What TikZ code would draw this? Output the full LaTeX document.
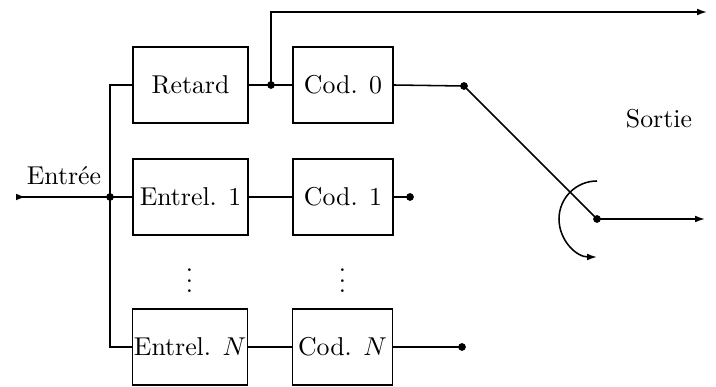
\documentclass[tikz,border=0pt]{standalone}
\usetikzlibrary{arrows.meta}
\begin{document}
\begin{tikzpicture}[x=0.3876pt,y=-0.3876pt,
  line width=0.6pt,
  blk/.style={draw,rectangle,inner sep=0pt,minimum height=29.5pt},
  wide/.style={blk,minimum width=44.6pt},
  narrow/.style={blk,minimum width=38.8pt},
  tip/.style={-{Latex[length=3.8pt,width=2.6pt]}},
  dot/.style={circle,fill,inner sep=0pt,minimum size=3pt}]
\useasboundingbox (0,0) rectangle (716,387);

% encoder blocks
\node[wide]   (retard) at (190.5,85)  {Retard};
\node[narrow] (cod0)   at (343,85)    {Cod. 0};
\node[wide]   (ent1)   at (190.5,197) {Entrel. 1};
\node[narrow] (cod1)   at (343,197)   {Cod. 1};
\node[wide]   (entN)   at (190,347)   {Entrel. $N$};
\node[narrow] (codN)   at (342.5,347) {Cod. $N$};

\node[inner sep=0pt] (vd1) at (189.5,273) {$\vdots$};
\node[inner sep=0pt] (vd2) at (342.5,273) {$\vdots$};

\node (lin)  at (64,176)  {Entrée};
\node (lout) at (659,119) {Sortie};

% junctions and end points
\node[dot] (j)   at (110,197) {};
\node[dot] (d0)  at (271,85)  {};
\node[dot] (s0)  at (464,86)  {};
\node[dot] (s1)  at (410,197) {};
\node[dot] (sN)  at (462,347) {};
\node[dot] (sw)  at (597,219) {};
\coordinate (in)   at (16,197);
\coordinate (top)  at (707,12);
\coordinate (out)  at (705,219);
\coordinate (arcs) at (597,181);

% input and distribution bus
\draw[{Latex[reversed,length=3.8pt,width=2.6pt]}-] (in) -- (j.center);
\draw (retard.west) -| (j.center) |- (entN.west);
\draw (j.center) -- (ent1.west);

% block links
\draw (retard.east) -- (cod0.west);
\draw (ent1.east) -- (cod1.west);
\draw (entN.east) -- (codN.west);
\draw[tip] (d0.center) |- (top);

% encoder outputs
\draw (cod0.east) -- (s0.center);
\draw (cod1.east) -- (s1.center);
\draw (codN.east) -- (sN.center);

% commutator
\draw (s0.center) -- (sw.center);
\draw[tip] (sw.center) -- (out);
\draw[tip] (arcs) arc[start angle=-90,end angle=-270,radius=38];
\end{tikzpicture}
\end{document}
